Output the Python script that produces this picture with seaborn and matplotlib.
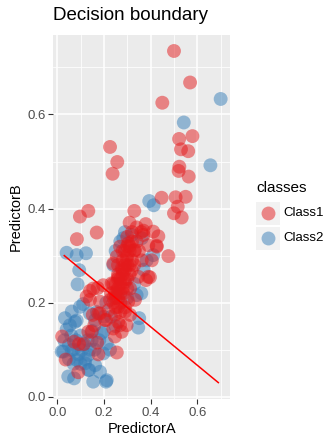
import matplotlib
matplotlib.use("Agg")
import matplotlib.pyplot as plt
import seaborn as sns
import pandas as pd
from matplotlib.patches import Rectangle

# ---------------- data ----------------
class1_x = [0.500, 0.569, 0.450, 0.579, 0.522, 0.530, 0.561, 0.523, 0.520, 0.563,
            0.226, 0.257, 0.237, 0.447, 0.507, 0.550, 0.516, 0.330, 0.133, 0.097,
            0.084, 0.169, 0.500, 0.533,
            0.405, 0.476, 0.397, 0.380, 0.426, 0.433, 0.411, 0.379, 0.369,
            0.173, 0.140, 0.126,
            0.021, 0.036, 0.090, 0.072, 0.093, 0.133, 0.152, 0.183, 0.209, 0.171,
            0.176, 0.114, 0.247, 0.255, 0.269, 0.159,
            0.269, 0.304, 0.333, 0.369, 0.390, 0.426, 0.362, 0.297, 0.255, 0.240,
            0.276, 0.319, 0.390, 0.347, 0.261, 0.290, 0.233, 0.197, 0.154, 0.247,
            0.283, 0.312, 0.261, 0.226, 0.183, 0.140, 0.261, 0.304, 0.219, 0.176,
            0.247, 0.290, 0.312, 0.204, 0.261, 0.297, 0.240, 0.276, 0.147, 0.333,
            0.270, 0.280, 0.290, 0.300, 0.260, 0.270, 0.280, 0.300, 0.310, 0.290,
            0.320, 0.260, 0.250, 0.240,
            0.240, 0.250, 0.260, 0.270, 0.280, 0.290, 0.300, 0.310, 0.320, 0.300,
            0.280, 0.260, 0.250, 0.270, 0.290, 0.310, 0.330, 0.320, 0.340, 0.300,
            0.280, 0.260, 0.240, 0.230, 0.250, 0.270, 0.290, 0.300, 0.310, 0.330,
            0.350, 0.360, 0.340, 0.310]
class1_y = [0.735, 0.668, 0.625, 0.554, 0.548, 0.526, 0.522, 0.489, 0.480, 0.468,
            0.531, 0.499, 0.474, 0.423, 0.424, 0.425, 0.404, 0.395, 0.395, 0.383,
            0.335, 0.349, 0.390, 0.381,
            0.290, 0.299, 0.254, 0.248, 0.321, 0.341, 0.351, 0.367, 0.353,
            0.231, 0.225, 0.213,
            0.128, 0.079, 0.052, 0.117, 0.112, 0.138, 0.174, 0.177, 0.163, 0.115,
            0.090, 0.112, 0.128, 0.094, 0.152, 0.152,
            0.319, 0.326, 0.312, 0.344, 0.322, 0.319, 0.290, 0.294, 0.298, 0.283,
            0.273, 0.269, 0.255, 0.255, 0.255, 0.244, 0.241, 0.237, 0.230, 0.223,
            0.220, 0.230, 0.209, 0.206, 0.202, 0.206, 0.191, 0.202, 0.184, 0.177,
            0.174, 0.181, 0.174, 0.163, 0.159, 0.152, 0.145, 0.138, 0.138, 0.206,
            0.240, 0.260, 0.270, 0.280, 0.220, 0.200, 0.230, 0.250, 0.310, 0.310,
            0.290, 0.250, 0.210, 0.200,
            0.210, 0.220, 0.230, 0.250, 0.270, 0.280, 0.300, 0.320, 0.330, 0.320,
            0.290, 0.260, 0.240, 0.220, 0.250, 0.280, 0.310, 0.350, 0.330, 0.340,
            0.310, 0.280, 0.240, 0.220, 0.190, 0.180, 0.190, 0.230, 0.260, 0.280,
            0.310, 0.350, 0.360, 0.370]

class2_x = [0.700, 0.542, 0.656, 0.394, 0.413,
            0.283, 0.319, 0.362, 0.383, 0.411, 0.340, 0.360, 0.347, 0.351,
            0.040, 0.083, 0.123, 0.094, 0.087, 0.111, 0.062, 0.033, 0.054, 0.083,
            0.040, 0.019, 0.047, 0.072, 0.154, 0.209, 0.183, 0.137, 0.197, 0.226,
            0.097, 0.140, 0.076, 0.162, 0.190, 0.026, 0.062, 0.105, 0.133, 0.083,
            0.119, 0.162, 0.212, 0.212, 0.147, 0.133,
            0.210, 0.240, 0.250, 0.270, 0.300, 0.230, 0.250, 0.200, 0.290, 0.330,
            0.370,
            0.030, 0.050, 0.070, 0.090, 0.110, 0.130, 0.100, 0.080, 0.060, 0.120,
            0.140, 0.160, 0.180, 0.150, 0.070, 0.100, 0.050, 0.200, 0.170]
class2_y = [0.633, 0.583, 0.492, 0.416, 0.407,
            0.337, 0.344, 0.337, 0.290, 0.301, 0.216, 0.220, 0.147, 0.167,
            0.306, 0.301, 0.305, 0.269, 0.239, 0.197, 0.181, 0.167, 0.152, 0.162,
            0.143, 0.096, 0.043, 0.039, 0.032, 0.032, 0.053, 0.057, 0.092, 0.100,
            0.191, 0.177, 0.159, 0.163, 0.135, 0.096, 0.099, 0.099, 0.089, 0.078,
            0.071, 0.067, 0.035, 0.113, 0.120, 0.057,
            0.200, 0.280, 0.310, 0.330, 0.210, 0.170, 0.150, 0.140, 0.350, 0.240,
            0.270,
            0.120, 0.110, 0.100, 0.090, 0.110, 0.120, 0.130, 0.120, 0.130, 0.080,
            0.100, 0.100, 0.120, 0.140, 0.070, 0.070, 0.080, 0.170, 0.180]

boundary_x = [0.03, 0.69]
boundary_y = [0.30, 0.03]

class_names = ["Class1", "Class2"]
class_colors = ["#E41A1C", "#377EB8"]

df = pd.DataFrame({
    "PredictorA": class2_x + class1_x,
    "PredictorB": class2_y + class1_y,
    "classes": ["Class2"] * len(class2_x) + ["Class1"] * len(class1_x),
})
line_df = pd.DataFrame({"PredictorA": boundary_x, "PredictorB": boundary_y})

# ---------------- figure ----------------
W, H = 331, 438
fig = plt.figure(figsize=(W / 100, H / 100), dpi=100)
fam = ["Liberation Sans", "DejaVu Sans"]
plt.rcParams["font.family"] = fam

L, R, T, B = 53.3, 230, 35, 399.3
ax = fig.add_axes([L / W, 1 - B / H, (R - L) / W, (B - T) / H])
ax.set_facecolor("#EBEBEB")

sns.scatterplot(data=df, x="PredictorA", y="PredictorB", hue="classes",
                hue_order=class_names, palette=class_colors, s=100, alpha=0.5,
                linewidth=0, ax=ax, legend=False, zorder=3)
sns.lineplot(data=line_df, x="PredictorA", y="PredictorB", color="#FF0000",
             linewidth=1.1, ax=ax, zorder=4, sort=False)

ax.set_xlim(-0.017, 0.74)
ax.set_ylim(-0.0055, 0.769)
ax.set_xticks([0.0, 0.2, 0.4, 0.6])
ax.set_yticks([0.0, 0.2, 0.4, 0.6])
ax.set_xticklabels(["0.0", "0.2", "0.4", "0.6"])
ax.set_yticklabels(["0.0", "0.2", "0.4", "0.6"])
ax.set_xticks([0.1, 0.3, 0.5, 0.7], minor=True)
ax.set_yticks([0.1, 0.3, 0.5, 0.7], minor=True)
ax.grid(which="major", color="white", linewidth=1.1, zorder=0)
ax.grid(which="minor", color="white", linewidth=0.55, zorder=0)
ax.set_axisbelow(True)
for sp in ax.spines.values():
    sp.set_visible(False)
ax.tick_params(which="major", length=3.5, width=0.8, color="#333333",
               labelcolor="#4D4D4D", labelsize=9.5, pad=2)
ax.tick_params(which="minor", length=0)
for lab in ax.get_xticklabels() + ax.get_yticklabels():
    lab.set_family(fam)

ax.set_xlabel("PredictorA", fontsize=10.5, family=fam, labelpad=2)
ax.set_ylabel("PredictorB", fontsize=10.5, family=fam, labelpad=3)

fig.text(L / W, 1 - 15 / H, "Decision boundary", fontsize=13.5, family=fam,
         ha="left", va="center")

# ---------------- legend ----------------
lax = fig.add_axes([0, 0, 1, 1])
lax.set_xlim(0, W)
lax.set_ylim(H, 0)
lax.axis("off")
lax.text(256, 188, "classes", fontsize=11, family=fam, ha="left", va="center")
key_tops = [201.5, 226.5]
for name, col, top in zip(class_names, class_colors, key_tops):
    lax.add_patch(Rectangle((256, top), 24, 23.5, facecolor="#F2F2F2",
                            edgecolor="none"))
    lax.scatter([268], [top + 11.8], s=100, color=col, alpha=0.5, linewidth=0)
    lax.text(283.5, top + 11.8, name, fontsize=9.5, family=fam, ha="left",
             va="center")

fig.savefig("out.png", dpi=100)
